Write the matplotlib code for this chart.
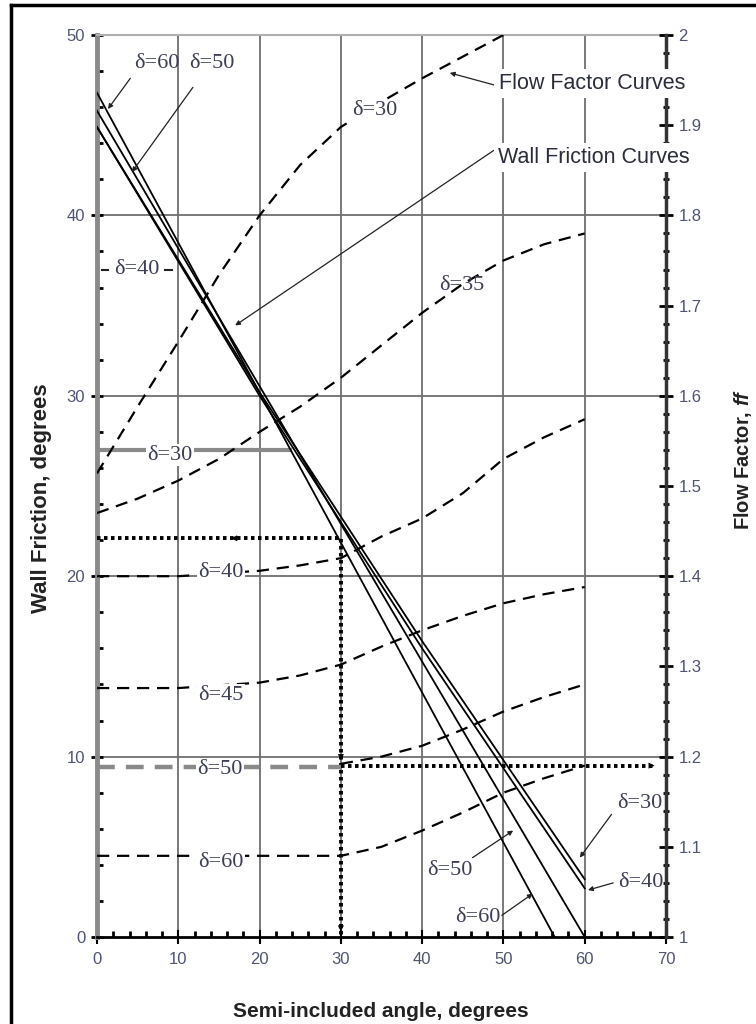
import numpy as np
import matplotlib
matplotlib.use('Agg')
import matplotlib.pyplot as plt
from matplotlib.ticker import MultipleLocator, FuncFormatter
from matplotlib.lines import Line2D

plt.rcParams['font.family'] = ['Liberation Sans', 'DejaVu Sans']
plt.rcParams['mathtext.fontset'] = 'custom'
plt.rcParams['mathtext.bfit'] = 'Liberation Sans:italic:bold'

# Curvas de atrito na parede (eixo esquerdo, graus)
wf_x = {'60': [0, 56.3], '50': [0, 60], '40': [0, 20, 40, 60], '30': [0, 20, 40, 60]}
wf_y = {'60': [46.8, 0], '50': [45.8, 0], '40': [44.9, 30.0, 16.0, 2.7], '30': [44.9, 30.2, 16.4, 3.2]}

# Curvas de fator de fluxo (eixo direito, ff)
ff_x30 = [0, 5, 10, 15, 20, 25, 30, 35, 40, 45, 50]
ff_y30 = [1.514, 1.588, 1.660, 1.734, 1.800, 1.856, 1.898, 1.926, 1.952, 1.976, 2.000]
ff_x35 = [0, 5, 10, 15, 20, 25, 30, 35, 40, 45, 50, 55, 60]
ff_y35 = [1.470, 1.486, 1.506, 1.530, 1.560, 1.588, 1.620, 1.656, 1.692, 1.724, 1.750, 1.768, 1.780]
ff_x40 = [0, 10, 20, 25, 30, 35, 40, 45, 50, 55, 60]
ff_y40 = [1.400, 1.400, 1.406, 1.412, 1.420, 1.444, 1.464, 1.492, 1.530, 1.554, 1.574]
ff_x45 = [0, 10, 20, 25, 30, 35, 40, 45, 50, 55, 60]
ff_y45 = [1.276, 1.276, 1.282, 1.290, 1.302, 1.322, 1.340, 1.356, 1.370, 1.380, 1.388]
ff_x50a = [0, 30]
ff_y50a = [1.189, 1.189]
ff_x50 = [30, 35, 40, 45, 50, 55, 60]
ff_y50 = [1.192, 1.200, 1.212, 1.230, 1.250, 1.266, 1.280]
ff_x60 = [0, 30, 35, 40, 45, 50, 55, 60]
ff_y60 = [1.090, 1.090, 1.100, 1.118, 1.138, 1.160, 1.176, 1.190]

# linha horizontal cinza do rótulo δ=30
g30_x = [0.3, 23.7]
g30_y = [27.0, 27.0]

# caminho de leitura pontilhado
path_x = [0, 30, 30]
path_y = [22.1, 22.1, 0]
path2_x = [30, 68.4]
path2_ff = [1.19, 1.19]

fig = plt.figure(figsize=(7.56, 10.24), dpi=100)
ax = fig.add_axes([97/756, 87/1024, 569/756, 902/1024])
ax.set_xlim(0, 70)
ax.set_ylim(0, 50)
ax2 = ax.twinx()
ax2.set_ylim(1, 2)

# moldura externa
fig.add_artist(Line2D([11/756, 11/756], [0, 1 - 5/1024], color='k', lw=2.5, transform=fig.transFigure))
fig.add_artist(Line2D([11/756, 1], [1 - 5/1024, 1 - 5/1024], color='k', lw=2.5, transform=fig.transFigure))

# grade
for gx in range(10, 70, 10):
    ax.plot([gx, gx], [0, 50], color='#6e6e6e', lw=1.3, zorder=1)
for gy in range(10, 50, 10):
    ax.plot([0, 70], [gy, gy], color='#6e6e6e', lw=1.3, zorder=1)

# eixos
ax.spines['left'].set_color('#8a8a8a')
ax.spines['left'].set_linewidth(3.5)
ax.spines['bottom'].set_color('black')
ax.spines['bottom'].set_linewidth(2)
ax.spines['top'].set_color('#b0b0b0')
ax.spines['top'].set_linewidth(1.5)
ax.spines['right'].set_visible(False)
for s in ['left', 'top', 'bottom']:
    ax2.spines[s].set_visible(False)
ax2.spines['right'].set_color('#333333')
ax2.spines['right'].set_linewidth(2.5)

lab_col = '#4f5570'
ax.xaxis.set_major_locator(MultipleLocator(10))
ax.xaxis.set_minor_locator(MultipleLocator(2))
ax.yaxis.set_major_locator(MultipleLocator(10))
ax.yaxis.set_minor_locator(MultipleLocator(2))
ax2.yaxis.set_major_locator(MultipleLocator(0.1))
ax2.yaxis.set_minor_locator(MultipleLocator(0.02))
ax2.yaxis.set_major_formatter(FuncFormatter(lambda v, p: f'{v:g}'))
ax.tick_params(axis='x', which='major', direction='inout', length=10, width=1.5, labelsize=12,
               labelcolor=lab_col, pad=6)
ax.tick_params(axis='x', which='minor', direction='in', length=4, width=2)
ax.tick_params(axis='y', which='major', direction='inout', length=9, width=2, labelsize=12,
               labelcolor=lab_col, pad=4)
ax.tick_params(axis='y', which='minor', direction='in', length=4, width=2)
ax2.tick_params(axis='y', which='major', direction='inout', length=10, width=2, labelsize=12,
                labelcolor=lab_col, pad=4)
ax2.tick_params(axis='y', which='minor', direction='inout', length=5, width=2)

ax.set_xlabel('Semi-included angle, degrees', fontsize=15, fontweight='bold', color='#222222')
ax.xaxis.set_label_coords(0.499, -0.072)
ax.set_ylabel('Wall Friction, degrees', fontsize=16, fontweight='bold', color='#222222')
ax.yaxis.set_label_coords(-0.079, 0.487)
ax2.set_ylabel(r'Flow Factor, $\mathbfit{ff}$', fontsize=14.5, fontweight='bold', color='#222222',
               rotation=90)
ax2.yaxis.set_label_coords(1.116, 0.53)

# curvas de atrito (linhas cheias)
for k in ['60', '50', '40', '30']:
    ax.plot(wf_x[k], wf_y[k], color='black', lw=1.3, zorder=3)

ax.plot(g30_x, g30_y, color='#8a8a8a', lw=3, zorder=2)
ax.plot([0.6, 1.35], [37.0, 37.0], color='#222222', lw=1.5)
ax.plot([8.4, 9.2], [37.0, 37.0], color='#222222', lw=1.5)

# curvas de fator de fluxo (tracejadas)
dash = (0, (5.5, 3.5))
for xs, ys in [(ff_x30, ff_y30), (ff_x35, ff_y35), (ff_x40, ff_y40), (ff_x45, ff_y45),
               (ff_x50, ff_y50), (ff_x60, ff_y60)]:
    ax2.plot(xs, ys, color='black', lw=1.6, linestyle=dash, zorder=3)
ax2.plot(ff_x50a, ff_y50a, color='#8a8a8a', lw=3.2, linestyle=(0, (4, 2.5)), zorder=3)

# caminho pontilhado
dot = (0, (0.9, 0.9))
ax.plot(path_x, path_y, color='black', lw=2.8, linestyle=dot, zorder=4)
ax2.plot(path2_x, path2_ff, color='black', lw=2.8, linestyle=dot, zorder=4)

arr = dict(arrowstyle='-|>', color='black', lw=0, mutation_scale=11, shrinkA=0, shrinkB=0)
tr = ax.transData
for (x0, y0, x1, y1) in [(18.5, 22.1, 16.5, 22.1), (30, 11.5, 30, 9.8), (30, 1.8, 30, 0.3),
                         (66.5, 9.5, 68.6, 9.5)]:
    ax2.annotate('', xy=(x1, y1), xytext=(x0, y0), xycoords=tr, textcoords=tr,
                 arrowprops=arr, zorder=5)

# rótulos δ
serif = ['Liberation Serif', 'DejaVu Serif']
dcol = '#3c3f52'
wb = dict(facecolor='white', edgecolor='none', pad=1.0)
for s, x, y in [('δ=40', 15.2, 20.2), ('δ=45', 15.2, 13.4), ('δ=50', 15.1, 9.3),
                ('δ=60', 15.2, 4.15), ('δ=30', 9.0, 26.7), ('δ=30', 34.2, 45.8)]:
    ax2.text(x, y, s, transform=tr, ha='center', va='center', fontsize=16, family=serif,
             color=dcol, bbox=wb, zorder=6)
for s, x, y in [('δ=35', 44.9, 36.1), ('δ=60', 7.4, 48.4), ('δ=50', 14.1, 48.4),
                ('δ=40', 4.9, 37.0)]:
    ax2.text(x, y, s, transform=tr, ha='center', va='center', fontsize=16, family=serif,
             color=dcol, zorder=6)

pt = dict(arrowstyle='-|>', color='#222222', lw=0.9, mutation_scale=7, shrinkA=0, shrinkB=0)
for s, tx, ty, ax0, ay0, x1, y1 in [
        ('δ=60', 7.4, 48.4, 4.1, 47.6, 1.35, 45.9),
        ('δ=50', 14.1, 48.4, 11.8, 47.1, 4.3, 42.4),
        ('δ=30', 66.8, 7.4, 63.3, 6.8, 59.4, 4.4),
        ('δ=40', 66.9, 3.0, 63.5, 3.0, 60.4, 2.6),
        ('δ=50', 43.4, 3.7, 46.2, 4.4, 51.2, 5.9),
        ('δ=60', 46.9, 1.1, 49.8, 1.2, 53.6, 2.4)]:
    ax2.annotate('', xy=(x1, y1), xytext=(ax0, ay0), xycoords=tr, textcoords=tr,
                 arrowprops=pt, zorder=5)
for s, x, y in [('δ=30', 66.8, 7.4), ('δ=40', 66.9, 3.0), ('δ=50', 43.4, 3.7), ('δ=60', 46.9, 1.1)]:
    ax2.text(x, y, s, transform=tr, ha='center', va='center', fontsize=16, family=serif,
             color=dcol, zorder=6)

# legendas em texto
ax2.text(49.4, 47.3, 'Flow Factor Curves', transform=tr, ha='left', va='center', fontsize=15.5,
         color='#2a2d3a', bbox=dict(facecolor='white', edgecolor='none', pad=3), zorder=6)
ax2.annotate('', xy=(43.4, 47.9), xytext=(49.1, 47.2), xycoords=tr, textcoords=tr,
             arrowprops=pt, zorder=5)
ax2.text(49.3, 43.2, 'Wall Friction Curves', transform=tr, ha='left', va='center', fontsize=15.5,
         color='#2a2d3a', bbox=dict(facecolor='white', edgecolor='none', pad=3), zorder=6)
ax2.annotate('', xy=(17.0, 33.9), xytext=(48.8, 43.6), xycoords=tr, textcoords=tr,
             arrowprops=pt, zorder=5)

fig.savefig('out.png', dpi=100)
